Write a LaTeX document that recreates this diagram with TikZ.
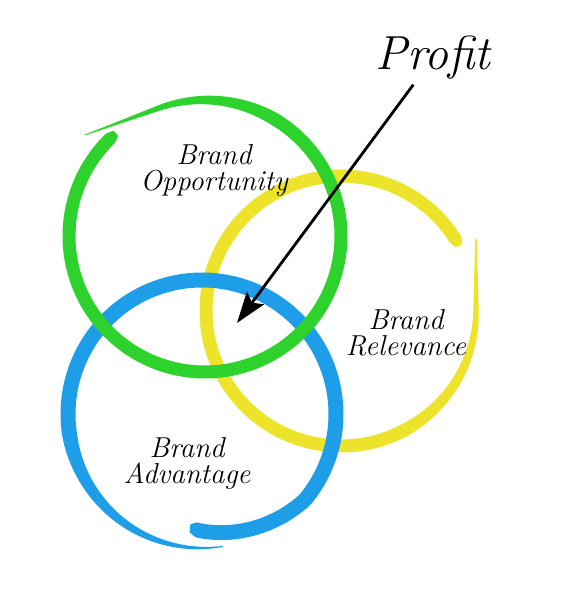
\documentclass[tikz,border=0pt]{standalone}
\usepackage{fontspec}
\usetikzlibrary{arrows.meta}

\definecolor{ringgreen}{RGB}{45,210,45}
\definecolor{ringyellow}{RGB}{237,227,42}
\definecolor{ringblue}{RGB}{30,157,232}
\newcommand{\handtext}{\itshape\addfontfeature{LetterSpace=20,FakeBold=1.2}}

\begin{document}
\begin{tikzpicture}[x=0.025cm,y=-0.025cm,
    ringlabel/.style={font=\fontsize{20.5}{18.5}\selectfont\handtext, align=center},
    declare function={
      gr(\a)=136/cos(min(\a+110,0));
      gw(\a)=1+12*min(1,(\a+140)/80,(229-\a)/6+0.5);
      yr(\a)=135/cos(min(\a+360,0));
      yw(\a)=2+11*min(1,(\a+388)/90,(-29-\a)/6+0.5);
      br(\a)=134-19*max(0,\a-40)/56;
      bw(\a)=1+14*min(1,(\a+279)/90,(96-\a)/6+0.5);
    }]

  \useasboundingbox (0,0) rectangle (568,600);

  \fill[ringyellow] plot[domain=-388:-29,samples=240] ({341+(yr(\x)+yw(\x)/2)*cos(\x)},{311+(yr(\x)+yw(\x)/2)*sin(\x)})
    -- plot[domain=-29:-388,samples=240] ({341+(yr(\x)-yw(\x)/2)*cos(\x)},{311+(yr(\x)-yw(\x)/2)*sin(\x)}) -- cycle;
  \fill[ringblue] plot[domain=-279:96,samples=240] ({202+(br(\x)+bw(\x)/2)*cos(\x)},{414+(br(\x)+bw(\x)/2)*sin(\x)})
    -- plot[domain=96:-279,samples=240] ({202+(br(\x)-bw(\x)/2)*cos(\x)},{414+(br(\x)-bw(\x)/2)*sin(\x)}) -- cycle;
  \fill[ringgreen] plot[domain=-140:229,samples=240] ({205+(gr(\x)+gw(\x)/2)*cos(\x)},{236+(gr(\x)+gw(\x)/2)*sin(\x)})
    -- plot[domain=229:-140,samples=240] ({205+(gr(\x)-gw(\x)/2)*cos(\x)},{236+(gr(\x)-gw(\x)/2)*sin(\x)}) -- cycle;

  \node[ringlabel] (opportunity) at (214,170) {Brand\\Opportunity};
  \node[ringlabel] (relevance) at (406,333) {Brand\\Relevance};
  \node[ringlabel] (advantage) at (187,463) {Brand\\Advantage};

  \node[font=\fontsize{34}{38}\selectfont\handtext] (profit) at (433,58) {Profit};
  \coordinate (core) at (237,323);

  \draw[line width=2pt,-{Stealth[length=22pt,width=15pt,inset=4pt]}] (profit) -- (core);

\end{tikzpicture}
\end{document}
